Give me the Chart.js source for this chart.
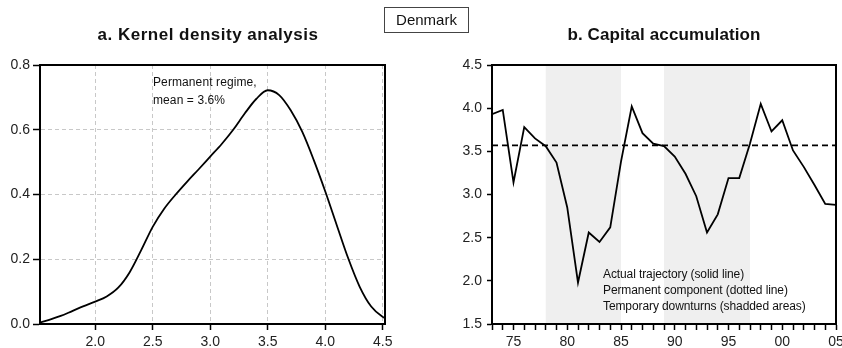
<!DOCTYPE html>
<html>
<head>
<meta charset="utf-8">
<script src="https://cdn.jsdelivr.net/npm/chart.js@4.4.0/dist/chart.umd.min.js"></script>
<style>
  body { margin: 0; background: #fff; font-family: "Liberation Sans", Arial, sans-serif; }
  #wrap { position: relative; width: 842px; height: 348px; overflow: hidden; }
  canvas { position: absolute; top: 0; }
  #densityChart { left: 0; }
  #capitalChart { left: 420px; }
  .title { position: absolute; top: 25px; font-weight: bold; font-size: 17px; line-height: 20px; color: #111; white-space: nowrap; transform: translateX(-50%); }
  #country { position: absolute; left: 384px; top: 7px; width: 83px; height: 24px; border: 1px solid #444; font-size: 15px; line-height: 24px; text-align: center; color: #111; }
  .note { position: absolute; font-size: 12px; color: #111; white-space: nowrap; }
  #regimeNote { left: 153px; top: 73px; line-height: 18px; letter-spacing: 0.1px; }
  #legendNote { left: 603px; top: 266px; line-height: 16px; letter-spacing: -0.1px; }
</style>
</head>
<body>
<div id="wrap">
  <canvas id="densityChart" width="420" height="348"></canvas>
  <canvas id="capitalChart" width="432" height="348"></canvas>
  <div class="title" style="left:208px; letter-spacing:0.5px">a. Kernel density analysis</div>
  <div class="title" style="left:664px; letter-spacing:0.1px">b. Capital accumulation</div>
  <div id="country">Denmark</div>
  <div class="note" id="regimeNote">Permanent regime,<br>mean = 3.6%</div>
  <div class="note" id="legendNote">Actual trajectory (solid line)<br>Permanent component (dotted line)<br>Temporary downturns (shadded areas)</div>
</div>
<script>
"use strict";
// panel a: kernel density of the growth rate
const densityX = [1.52, 1.6, 1.7, 1.8, 1.9, 2.0, 2.1, 2.2, 2.3, 2.4, 2.5, 2.6, 2.7, 2.8, 2.9, 3.0,
                  3.1, 3.2, 3.3, 3.4, 3.5, 3.6, 3.7, 3.8, 3.9, 4.0, 4.1, 4.2, 4.3, 4.4, 4.5, 4.52];
const densityY = [0.005, 0.013, 0.025, 0.040, 0.055, 0.069, 0.085, 0.112, 0.16, 0.228, 0.30, 0.356, 0.40, 0.44, 0.478, 0.517,
                  0.556, 0.600, 0.650, 0.695, 0.722, 0.707, 0.66, 0.594, 0.507, 0.41, 0.306, 0.203, 0.115, 0.054, 0.022, 0.018];
const densityXTicks = [2.0, 2.5, 3.0, 3.5, 4.0, 4.5];
const densityYTicks = [0.0, 0.2, 0.4, 0.6, 0.8];

// panel b: capital accumulation, Denmark
const years = [1973, 1974, 1975, 1976, 1977, 1978, 1979, 1980, 1981, 1982, 1983, 1984, 1985, 1986, 1987, 1988, 1989,
               1990, 1991, 1992, 1993, 1994, 1995, 1996, 1997, 1998, 1999, 2000, 2001, 2002, 2003, 2004, 2005];
const capital = [3.93, 3.98, 3.14, 3.78, 3.65, 3.56, 3.37, 2.85, 1.98, 2.56, 2.45, 2.62, 3.38, 4.02, 3.71, 3.59, 3.56,
                 3.44, 3.24, 2.98, 2.56, 2.77, 3.19, 3.19, 3.59, 4.05, 3.73, 3.86, 3.51, 3.32, 3.11, 2.89, 2.88];
const permanentMean = 3.57;
const downturnStart = [1978, 1989];
const downturnEnd = [1985, 1997];
const capitalYTicks = [1.5, 2.0, 2.5, 3.0, 3.5, 4.0, 4.5];

const tickFont = { family: "'Liberation Sans', Arial, sans-serif", size: 14 };
const tickColor = "#222";

const frame = {
    id: "frame",
    afterDraw(chart) {
        const { ctx, chartArea: a } = chart;
        ctx.save();
        ctx.strokeStyle = "#000";
        ctx.lineWidth = 2;
        ctx.strokeRect(a.left, a.top, a.right - a.left, a.bottom - a.top);
        ctx.restore();
    }
};

const shading = {
    id: "shading",
    beforeDatasetsDraw(chart) {
        const { ctx, chartArea: a, scales: { x } } = chart;
        ctx.save();
        ctx.fillStyle = "#efefef";
        downturnStart.forEach((s, i) => {
            const x0 = x.getPixelForValue(s);
            const x1 = x.getPixelForValue(downturnEnd[i]);
            ctx.fillRect(x0, a.top, x1 - x0, a.bottom - a.top);
        });
        ctx.restore();
    }
};

new Chart(document.getElementById("densityChart"), {
    type: "line",
    data: {
        datasets: [{
            data: densityX.map((x, i) => ({ x: x, y: densityY[i] })),
            borderColor: "#000",
            borderWidth: 1.8,
            pointRadius: 0,
            cubicInterpolationMode: "monotone",
            fill: false
        }]
    },
    options: {
        responsive: false,
        animation: false,
        layout: { padding: { left: 0, right: 35, top: 65, bottom: 0 } },
        plugins: { legend: { display: false }, tooltip: { enabled: false } },
        scales: {
            x: {
                type: "linear",
                min: 1.52,
                max: 4.52,
                afterBuildTicks: s => { s.ticks = densityXTicks.map(v => ({ value: v })); },
                afterFit: s => { s.height = 24; },
                grid: { color: "#c8c8c8", lineWidth: 1, tickColor: "#000", tickWidth: 1.5, tickLength: 6, tickBorderDash: [] },
                border: { color: "#000", width: 2, dash: [4, 3] },
                ticks: { font: tickFont, color: tickColor, padding: 4, maxRotation: 0, autoSkip: false, callback: v => v.toFixed(1) }
            },
            y: {
                min: 0,
                max: 0.8,
                afterBuildTicks: s => { s.ticks = densityYTicks.map(v => ({ value: v })); },
                afterFit: s => { s.width = 40; },
                grid: { color: "#c8c8c8", lineWidth: 1, tickColor: "#000", tickWidth: 1.5, tickLength: 7, tickBorderDash: [] },
                border: { color: "#000", width: 2, dash: [4, 3] },
                ticks: { font: tickFont, color: tickColor, padding: 3, callback: v => v.toFixed(1) }
            }
        }
    },
    plugins: [frame]
});

new Chart(document.getElementById("capitalChart"), {
    type: "line",
    data: {
        datasets: [{
            data: years.map((y, i) => ({ x: y, y: capital[i] })),
            borderColor: "#000",
            borderWidth: 1.8,
            pointRadius: 0,
            tension: 0,
            fill: false
        }, {
            data: [{ x: years[0], y: permanentMean }, { x: years[years.length - 1], y: permanentMean }],
            borderColor: "#000",
            borderWidth: 1.8,
            borderDash: [6, 4],
            pointRadius: 0,
            fill: false
        }]
    },
    options: {
        responsive: false,
        animation: false,
        layout: { padding: { left: 0, right: 16, top: 65, bottom: 0 } },
        plugins: { legend: { display: false }, tooltip: { enabled: false } },
        scales: {
            x: {
                type: "linear",
                min: years[0],
                max: years[years.length - 1],
                afterBuildTicks: s => { s.ticks = years.map(v => ({ value: v })); },
                afterFit: s => { s.height = 24; },
                grid: { drawOnChartArea: false, tickColor: "#000", tickWidth: 1.5, tickLength: 6 },
                border: { color: "#000", width: 2 },
                ticks: {
                    font: tickFont, color: tickColor, padding: 4, maxRotation: 0, autoSkip: false,
                    callback: v => (v % 5 === 0 ? String(v % 100).padStart(2, "0") : "")
                }
            },
            y: {
                min: 1.5,
                max: 4.5,
                afterBuildTicks: s => { s.ticks = capitalYTicks.map(v => ({ value: v })); },
                afterFit: s => { s.width = 72; },
                grid: { drawOnChartArea: false, tickColor: "#000", tickWidth: 1.5, tickLength: 5 },
                border: { color: "#000", width: 2 },
                ticks: { font: tickFont, color: tickColor, padding: 5, callback: v => v.toFixed(1) }
            }
        }
    },
    plugins: [shading, frame]
});
</script>
</body>
</html>
